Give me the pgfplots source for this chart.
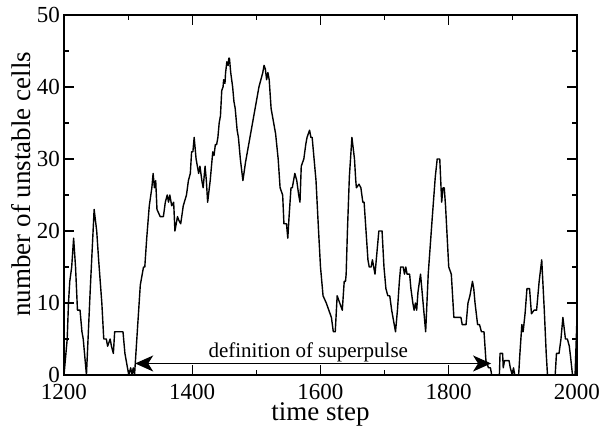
\documentclass[border=0pt]{standalone}
\usepackage{fontspec}
\setmainfont{Liberation Serif}
\usepackage{pgfplots}
\pgfplotsset{compat=1.18}
\usetikzlibrary{arrows.meta}
\begin{document}
\begin{tikzpicture}
\useasboundingbox (-64pt,-52pt) rectangle (541pt,375pt);
\begin{axis}[
  scale only axis, width=513pt, height=360pt,
  anchor=south west, at={(0,0)},
  xmin=1200, xmax=2000, ymin=0, ymax=50,
  xtick={1200,1400,...,2000}, minor x tick num=1,
  ytick={0,10,...,50}, minor y tick num=1,
  tick align=inside, major tick length=10pt, minor tick length=5pt,
  axis line style={line width=1.6pt},
  every tick/.style={line width=1.2pt, black},
  /pgf/number format/assume math mode=true,
  /pgf/number format/set thousands separator={},
  tick label style={font=\fontsize{23}{23}\selectfont},
  xticklabel style={anchor=base, yshift=-25pt},
  yticklabel style={anchor=east, inner sep=0pt, xshift=-4pt},
  xlabel={time step},
  xlabel style={font=\fontsize{27}{27}\selectfont, at={(axis description cs:0.5,0)}, anchor=base, yshift=-46pt},
  clip=false,
]
\addplot[black, line width=1.4pt, line join=round] coordinates {
(1200,0)(1201,1)(1205,5)(1207,10)(1209,13)(1212,15)(1215,19)(1218,15)(1221,9)(1225,9)(1228,6)(1230,5)(1235,0)
(1241,12)(1247,23)(1251,20)(1254,16)(1259,10)(1262,5)(1266,5)(1268,4)(1272,5)(1274,4)(1277,3)(1279,6)(1292,6)
(1295,3)(1298,1.5)(1301,0)(1304,1)(1306,0)(1308,1)(1310,0)(1315,7)(1319,12.5)(1322,14)(1324,15)(1326,15)(1329,19)
(1333,23.5)(1337,26)(1339,28)(1341,26)(1343,27)(1345,23)(1350,22)(1355,22)(1358,24)(1361,25)(1363,24)(1365,25)
(1368,23.5)(1371,24)(1373,20)(1377,22)(1379,21.5)(1382,21)(1386,23.5)(1391,25)(1394,27)(1397,28)(1399,31)(1401,31)
(1403,33)(1406,30)(1410,28)(1412,29)(1415,27)(1417,26)(1420,29)(1422,27)(1424,24)(1428,27)(1432,31)(1434,30.5)
(1436,32)(1438,32)(1440,33)(1442,35)(1444,36)(1446,39.5)(1448,40)(1449,41)(1451,40.5)(1452,42)(1454,43.5)(1456,43)
(1457,44)(1458,44)(1459,43)(1460,42)(1463,40)(1465,38)(1467,37)(1470,34)(1472,33)(1475,30)(1479,27)(1483,29.5)
(1488,32)(1492,34)(1496,36)(1501,38.5)(1504,40)(1507,41)(1510,42)(1512,43)(1514,42.5)(1516,41)(1518,42)(1520,41)
(1523,37)(1526,35.5)(1530,33.5)(1534,30)(1537,26)(1541,25)(1543,21)(1547,21)(1549,19)(1551,22)(1554,26)(1556,26)
(1558,27)(1560,28)(1563,27)(1566,25)(1568,24)(1570,29)(1574,30)(1577,32)(1579,33)(1581,33.5)(1583,34)(1585,33)
(1587,33)(1590,30)(1593,27)(1597,20)(1600,15)(1604,11)(1609,10)(1613,9)(1617,8)(1620,6)(1623,6)(1626,11)(1630,10)
(1634,9)(1637,13)(1639,13)(1640,14)(1642,20)(1645,27.5)(1649,33)(1653,30)(1655,27)(1656,26)(1660,26.5)(1663,26)
(1666,24)(1668,24)(1671,20)(1674,16)(1676,15)(1679,15)(1681,16)(1683,15)(1685,14)(1689,18)(1691,20)(1696,20)
(1699,15)(1702,12)(1705,11)(1708,11)(1711,9)(1714,7.5)(1717,6)(1720,9)(1723,13)(1725,15)(1729,15)(1731,14)(1733,15)
(1735,14)(1739,14)(1741,12)(1744,10)(1746,9)(1748,10)(1750,9)(1752,11.5)(1756,14)(1759,11)(1762,8)(1764,6)(1768,14)
(1774,21.5)(1779,27.5)(1782,30)(1786,30)(1789,24)(1791,26)(1793,26)(1795,23.5)(1800,15)(1804,14)(1808,8)(1819,8)
(1821,7)(1827,7)(1830,10)(1833,11)(1837,13)(1839,12)(1841,10)(1845,7)(1848,7)(1851,6)(1855,6)(1858,2)(1862,1)
(1865,1)(1867,0)(1879,0)(1880,3)(1884,3)(1885,1)(1887,2)(1894,2)(1896,1)(1899,0)(1901,1)(1903,0)(1909,0)(1911,3)
(1914,7)(1916,6)(1919,8.5)(1922,12)(1926,12)(1929,8.5)(1933,9)(1937,9)(1941,13)(1945,16)(1949,9)(1952,3)(1954,0)
(1966,0)(1968,3)(1972,3)(1975,5)(1978,8)(1982,5)(1985,5)(1988,4)(1990,2.5)(1993,0)(1997,0)(2000,8)
};
\draw[line width=1.2pt, {Stealth[length=18pt,width=16pt,inset=5pt]}-{Stealth[length=18pt,width=16pt,inset=5pt]}]
  (axis cs:1311,1.6) -- (axis cs:1866,1.6);
\node[anchor=base, inner sep=0pt, font=\fontsize{21}{21}\selectfont] at (axis cs:1581,2.4) {definition of superpulse};
\node[rotate=90, anchor=base, inner sep=0pt, font=\fontsize{27}{27}\selectfont] at ([xshift=-33pt]rel axis cs:0,0.53) {number of unstable cells};
\end{axis}
\end{tikzpicture}
\end{document}
